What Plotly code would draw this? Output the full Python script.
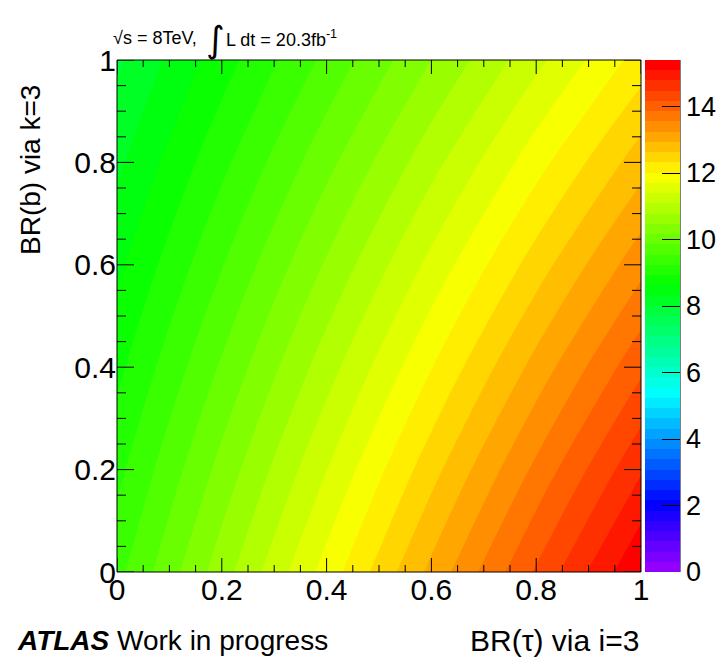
import colorsys
import plotly.graph_objects as go

# ---- data ----
br_tau = [0.0, 0.2, 0.4, 0.6, 0.8, 1.0]          # x: BR(tau)
br_b = [0.0, 0.2, 0.4, 0.6, 0.8, 1.0]            # y: BR(b)
z_row_b00 = [9.45, 10.64, 11.83, 13.02, 14.21, 15.40]
z_row_b02 = [9.15, 10.27, 11.39, 12.51, 13.63, 14.75]
z_row_b04 = [8.85, 9.90, 10.95, 12.00, 13.05, 14.10]
z_row_b06 = [8.55, 9.53, 10.51, 11.49, 12.47, 13.45]
z_row_b08 = [8.25, 9.16, 10.07, 10.98, 11.89, 12.80]
z_row_b10 = [7.95, 8.79, 9.63, 10.47, 11.31, 12.15]
z_grid = [z_row_b00, z_row_b02, z_row_b04, z_row_b06, z_row_b08, z_row_b10]

cbar_ticks = [0, 2, 4, 6, 8, 10, 12, 14]
major_ticks = [0.0, 0.2, 0.4, 0.6, 0.8, 1.0]
minor_ticks = [0.05, 0.1, 0.15, 0.25, 0.3, 0.35, 0.45, 0.5, 0.55,
               0.65, 0.7, 0.75, 0.85, 0.9, 0.95]
z_min, z_max = 0.0, 15.4
n_levels = 50

# ROOT "pretty" palette: 50 colours, hue 280 -> 0
colors = []
for i in range(n_levels):
    hue = 280 - (i + 1) * (280.0 / n_levels)
    r, g, b = colorsys.hls_to_rgb(hue / 360.0, 0.5, 1.0)
    colors.append(f"rgb({int(round(r*255))},{int(round(g*255))},{int(round(b*255))})")
cscale = []
for i, c in enumerate(colors):
    cscale.append([i / n_levels, c])
    cscale.append([(i + 1) / n_levels, c])

FONT = "Liberation Sans"
PLOT_W, PLOT_H = 524, 512
fig = go.Figure()
fig.add_trace(go.Contour(
    x=br_tau, y=br_b, z=z_grid,
    zmin=z_min, zmax=z_max, zauto=False,
    colorscale=cscale,
    contours=dict(start=z_min, end=z_max, size=(z_max - z_min) / n_levels,
                  coloring="fill", showlines=False),
    line=dict(width=0),
    colorbar=dict(
        x=1.0076, xanchor="left", xpad=0, thickness=35,
        y=0.5, yanchor="middle", len=1.0, lenmode="fraction", ypad=0,
        tickvals=cbar_ticks, ticks="inside", ticklen=18, tickcolor="black",
        tickfont=dict(family=FONT, size=27, color="black"),
        outlinewidth=0, showticklabels=True,
    ),
))

axis_common = dict(
    range=[0, 1], tickvals=major_ticks, ticktext=["0", "0.2", "0.4", "0.6", "0.8", "1"],
    ticks="", showline=False, showgrid=False, zeroline=False,
    tickfont=dict(family=FONT, size=30, color="black"),
)
fig.update_xaxes(**axis_common, ticklabelstandoff=-3)
fig.update_yaxes(**axis_common)

fig.update_layout(
    width=722, height=663,
    margin=dict(l=117, r=81, t=60, b=91, autoexpand=False),
    paper_bgcolor="white", plot_bgcolor="white",
    font=dict(family=FONT, color="black"),
    showlegend=False,
)

# frame and ROOT-style inside ticks on all four sides
tick_line = dict(color="black", width=1)
fig.add_shape(type="rect", xref="x domain", yref="y domain", x0=0, x1=1, y0=0, y1=1,
              line=tick_line, layer="above")
for v, ln in [(t, 14) for t in major_ticks] + [(t, 7) for t in minor_ticks]:
    fig.add_shape(type="line", xref="x", yref="y domain", x0=v, x1=v, y0=0, y1=ln / PLOT_H,
                  line=tick_line, layer="above")
    fig.add_shape(type="line", xref="x", yref="y domain", x0=v, x1=v, y0=1, y1=1 - ln / PLOT_H,
                  line=tick_line, layer="above")
for v, ln in [(t, 17) for t in major_ticks] + [(t, 9) for t in minor_ticks]:
    fig.add_shape(type="line", xref="x domain", yref="y", x0=0, x1=ln / PLOT_W, y0=v, y1=v,
                  line=tick_line, layer="above")
    fig.add_shape(type="line", xref="x domain", yref="y", x0=1, x1=1 - ln / PLOT_W, y0=v, y1=v,
                  line=tick_line, layer="above")
# colour-bar axis line (right edge of palette)
fig.add_shape(type="line", xref="paper", yref="paper", x0=(680 - 117) / PLOT_W,
              x1=(680 - 117) / PLOT_W, y0=0, y1=1, line=tick_line, layer="above")

fig.add_annotation(text="BR(b) via k=3", xref="paper", yref="paper",
                   x=(30 - 117) / PLOT_W, y=(572 - 170) / PLOT_H, xanchor="center", yanchor="middle",
                   textangle=-90, showarrow=False, font=dict(family=FONT, size=28))
fig.add_annotation(text="BR(τ) via i=3", xref="paper", yref="paper",
                   x=1.0, y=(572 - 640) / PLOT_H, xanchor="right", yanchor="middle",
                   showarrow=False, font=dict(family=FONT, size=30))
fig.add_annotation(text="<b><i>ATLAS</i></b> Work in progress", xref="paper", yref="paper",
                   x=(15 - 117) / PLOT_W, y=(572 - 640) / PLOT_H, xanchor="left", yanchor="middle",
                   showarrow=False, font=dict(family=FONT, size=28))
fig.add_annotation(text="√s = 8TeV,", xref="paper", yref="paper",
                   x=(111 - 117) / PLOT_W, y=(572 - 38) / PLOT_H, xanchor="left", yanchor="middle",
                   showarrow=False, font=dict(family=FONT, size=18))
fig.add_annotation(text="∫", xref="paper", yref="paper",
                   x=(215 - 117) / PLOT_W, y=(572 - 39) / PLOT_H, xanchor="center", yanchor="middle",
                   showarrow=False, font=dict(family="DejaVu Sans", size=36))
fig.add_annotation(text="L dt = 20.3fb<sup>-1</sup>", xref="paper", yref="paper",
                   x=(224 - 117) / PLOT_W, y=(572 - 38) / PLOT_H, xanchor="left", yanchor="middle",
                   showarrow=False, font=dict(family=FONT, size=18))

fig.write_html("out.html")
